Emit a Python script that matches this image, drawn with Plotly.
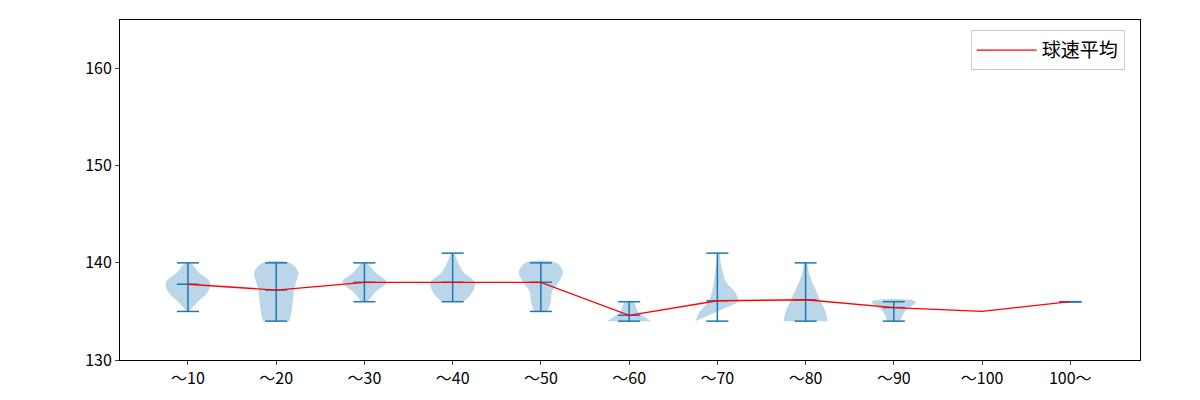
import plotly.graph_objects as go

labels = ["～10","～20","～30","～40","～50","～60","～70","～80","～90","～100","100～"]
means = [137.8,137.2,138.0,138.0,138.0,134.6,136.1,136.2,135.4,135.0,136.0]
mins = [135,134,136,136,135,134,134,134,134,None,136]
maxs = [140,140,140,141,140,136,141,140,136,None,136]
# violin profile: y levels and relative half-widths (estimated)
vy = [
    [135,136,137,138,139,140],
    [134,135,136,137,138,139,140],
    [136,137,138,139,140],
    [136,137,138,139,140,141],
    [135,136,137,138,139,140],
    [134,135,136],
    [134,135,136,137,138,139,140,141],
    [134,135,136,137,138,139,140],
    [134,135,136],
    [],
    [],
]
vw = [
    [0.05,0.45,0.9,1.0,0.5,0.1],
    [0.6,0.7,0.75,0.8,0.9,1.0,0.6],
    [0.15,0.5,1.0,0.5,0.1],
    [0.5,0.9,1.0,0.5,0.25,0.05],
    [0.3,0.45,0.5,0.8,1.0,0.7],
    [1.0,0.4,0.2],
    [1.0,0.8,0.4,0.25,0.15,0.1,0.05],
    [1.0,0.9,0.7,0.5,0.3,0.15,0.05],
    [0.3,0.5,1.0],
    [],
    [],
]

blue = "#1f77b4"
HALF = 0.25
CAP = 0.125
fig = go.Figure()
for i in range(len(labels)):
    x0 = i + 1
    if vy[i]:
        xs = [x0 - HALF*w for w in vw[i]] + [x0 + HALF*w for w in reversed(vw[i])]
        ys = list(vy[i]) + list(reversed(vy[i]))
        fig.add_trace(go.Scatter(x=xs, y=ys, mode="lines", fill="toself",
                                 line=dict(width=0, shape="spline", smoothing=1.0),
                                 fillcolor="rgba(31,119,180,0.3)", showlegend=False, hoverinfo="skip"))
    if mins[i] is not None:
        fig.add_trace(go.Scatter(x=[x0, x0], y=[mins[i], maxs[i]], mode="lines",
                                 line=dict(color=blue, width=1.5), showlegend=False))
        for v in (mins[i], maxs[i], means[i]):
            fig.add_trace(go.Scatter(x=[x0-CAP, x0+CAP], y=[v, v], mode="lines",
                                     line=dict(color=blue, width=1.5), showlegend=False))

fig.add_trace(go.Scatter(x=list(range(1, len(labels)+1)), y=means, mode="lines",
                         line=dict(color="red", width=1.3), name="球速平均"))

fig.update_layout(
    width=1200, height=400, plot_bgcolor="white", paper_bgcolor="white",
    margin=dict(l=112, r=68, t=12, b=48),
    font=dict(family="Noto Sans CJK JP", size=16, color="black"),
    legend=dict(x=0.985, y=0.97, xanchor="right", yanchor="top", bordercolor="#cccccc",
                borderwidth=1, bgcolor="white", font=dict(size=19), itemwidth=60),
)
fig.update_xaxes(range=[0.23, 11.79], tickvals=list(range(1, 12)), ticktext=labels,
                 showgrid=False, zeroline=False, showline=True, linecolor="black", mirror=True,
                 ticks="outside", ticklen=4)
fig.update_yaxes(range=[130, 165], tickvals=[130, 140, 150, 160], showgrid=False, zeroline=False,
                 showline=True, linecolor="black", mirror=True, ticks="outside", ticklen=4)
fig.write_html("out.html")
